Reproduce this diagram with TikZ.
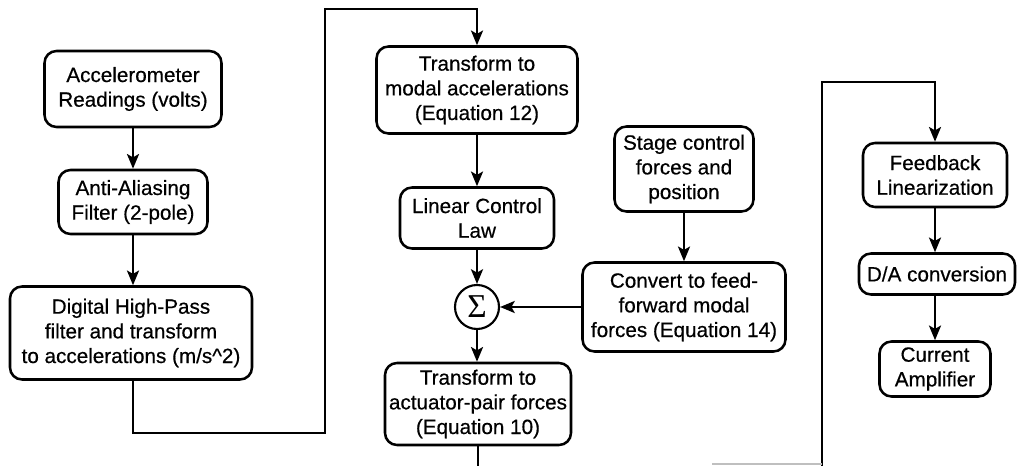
\documentclass[tikz,border=0pt]{standalone}
\usepackage{fontspec}
\setmainfont{Liberation Sans}
\newfontfamily\hfont[FakeBold=0.5]{Liberation Sans}
\newfontfamily\sigfont{Liberation Serif}
\usetikzlibrary{arrows.meta}
\begin{document}
\begin{tikzpicture}[x=0.75pt,y=-0.75pt,
 box/.style={draw, line width=1.9pt, rounded corners=9pt, align=center, inner sep=0pt, font=\hfont\fontsize{15.5}{18.5}\selectfont},
 conn/.style={line width=1.9pt},
 arr/.style={conn, -{Stealth[length=11pt,width=9pt,inset=2.5pt]}}]
\useasboundingbox (0,0) rectangle (1017,466);
% left column
\node[box, minimum width=132.75pt, minimum height=57pt] (b1) at (133,89) {Accelerometer\\Readings (volts)};
\node[box, minimum width=111.75pt, minimum height=48pt] (b2) at (133,202) {Anti-Aliasing\\Filter (2-pole)};
\node[box, minimum width=181.5pt, minimum height=69.75pt] (b3) at (131,333) {Digital High-Pass\\filter and transform\\to accelerations (m/s\^{}2)};
% middle column
\node[box, minimum width=150.75pt, minimum height=65.25pt] (b4) at (477,90) {Transform to\\modal accelerations\\(Equation 12)};
\node[box, minimum width=115.5pt, minimum height=45.75pt] (b5) at (477,218) {Linear Control\\Law};
\node[draw, circle, line width=1.6pt, minimum size=33pt, inner sep=0pt] (sum) at (477,307) {\sigfont\fontsize{25}{25}\selectfont Σ};
\node[box, minimum width=139.5pt, minimum height=61.5pt] (b7) at (478,404) {Transform to\\actuator-pair forces\\(Equation 10)};
\node[box, minimum width=104.25pt, minimum height=63.75pt] (b8) at (684,169) {Stage control\\forces and\\position};
\node[box, minimum width=152.25pt, minimum height=66.75pt] (b9) at (684,307) {Convert to feed-\\forward modal\\forces (Equation 14)};
% right column
\node[box, minimum width=108pt, minimum height=48pt] (b10) at (935,175) {Feedback\\Linearization};
\node[box, minimum width=117pt, minimum height=30.75pt] (b11) at (937,274) {D/A conversion};
\node[box, minimum width=83.25pt, minimum height=41.25pt] (b12) at (935,369) {Current\\Amplifier};
% route coordinates
\coordinate (c1) at (133,433);
\coordinate (c2) at (325,433);
\coordinate (c3) at (325,9);
\coordinate (e1) at (478,466);
\coordinate (e2) at (822,466);
\coordinate (e3) at (822,82);
\coordinate (g1) at (712,464);
\coordinate (g2) at (822,464);
% connectors
\draw[arr] (b1.south) -- (b1.south |- b2.north);
\draw[arr] (b2.south) -- (b2.south |- b3.north);
\draw[arr] (b3.south -| c1) -- (c1) -- (c2) -- (c3) -- (b4.north |- c3) -- (b4.north);
\draw[arr] (b4.south) -- (b4.south |- b5.north);
\draw[arr] (b5.south) -- (sum.north);
\draw[arr] (sum.south) -- (sum.south |- b7.north);
\draw[arr] (b8.south) -- (b8.south |- b9.north);
\draw[arr] (b9.west) -- (sum.east);
\draw[conn] (b7.south) -- (b7.south |- e1);
\draw[arr] (e2) -- (e3) -- (b10.north |- e3) -- (b10.north);
\draw[gray!50, line width=0.8pt] (g1) -- (g2);
\draw[arr] (b10.south) -- (b10.south |- b11.north);
\draw[arr] (b11.south -| b12.north) -- (b12.north);
\end{tikzpicture}
\end{document}
